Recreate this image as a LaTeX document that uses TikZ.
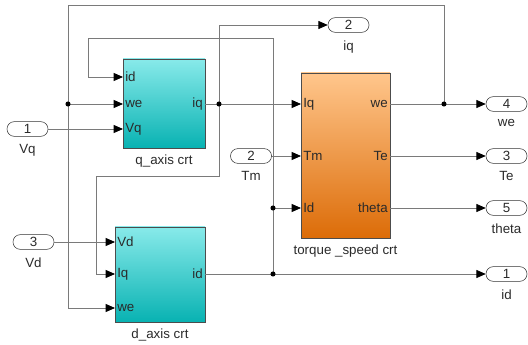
\documentclass[tikz,border=0pt]{standalone}
\usepackage{fontspec}
\setmainfont{Liberation Sans}
\usetikzlibrary{arrows.meta, positioning, shadows}

\definecolor{cyantop}{HTML}{88EAEA}
\definecolor{cyanbot}{HTML}{08B2B2}
\definecolor{orangetop}{HTML}{FFC68C}
\definecolor{orangebot}{HTML}{DC6C08}
\definecolor{wiregray}{HTML}{7A7A7A}
\definecolor{textgray}{HTML}{2A2A2A}

\begin{document}
\begin{tikzpicture}[
    x=0.75pt, y=-0.75pt,
    font=\fontsize{10}{12}\selectfont,
    text=textgray,
    blok/.style={
        rectangle,
        draw=black!70,
        line width=0.6pt,
        inner sep=0pt,
        drop shadow={shadow xshift=0.8pt, shadow yshift=-0.8pt, opacity=0.35}
    },
    qdblok/.style={blok, top color=cyantop, bottom color=cyanbot},
    tsblok/.style={blok, top color=orangetop, bottom color=orangebot},
    port/.style={
        rectangle,
        draw=black!80,
        rounded corners=5.4pt,
        fill=white,
        minimum width=30.75pt,
        minimum height=11pt,
        inner sep=0pt
    },
    pin/.style={inner sep=1.5pt},
    wire/.style={draw=wiregray, line width=0.6pt},
    arrow/.style={wire, -{Triangle[length=7pt, width=6pt, color=black]}},
    dot/.style={circle, fill=black, inner sep=0pt, minimum size=3.8pt}
]
\useasboundingbox (0,0) rectangle (528,345);

% blocks
\node[qdblok, minimum width=61.5pt, minimum height=66.75pt] (qaxis) at (164,103.5) {};
\node[below=1.5pt of qaxis] (qname) {q\_axis crt};
\node[qdblok, minimum width=67.5pt, minimum height=71.25pt] (daxis) at (160,274.5) {};
\node[below=1.5pt of daxis] (dname) {d\_axis crt};
\node[tsblok, minimum width=66.75pt, minimum height=123.75pt] (tsp) at (345.5,155.5) {};
\node[below=1.5pt of tsp] (tname) {torque \_speed crt};

% block ports
\node[pin, anchor=west] (q-id) at (123,77) {id};
\node[pin, anchor=west] (q-we) at (123,104) {we};
\node[pin, anchor=west] (q-vq) at (123,129) {Vq};
\node[pin, anchor=east] (q-iq) at (205,104) {iq};

\node[pin, anchor=west] (d-vd) at (115,242) {Vd};
\node[pin, anchor=west] (d-iq) at (115,274) {Iq};
\node[pin, anchor=west] (d-we) at (115,308) {we};
\node[pin, anchor=east] (d-id) at (205,274) {id};

\node[pin, anchor=west] (t-iq) at (301,104) {Iq};
\node[pin, anchor=west] (t-tm) at (301,156) {Tm};
\node[pin, anchor=west] (t-id) at (301,208) {Id};
\node[pin, anchor=east] (t-we) at (390,104) {we};
\node[pin, anchor=east] (t-te) at (390,156) {Te};
\node[pin, anchor=east] (t-theta) at (390,208) {theta};

% inports
\node[port] (in1) at (27.5,129) {1};
\node[below=2.5pt of in1] (in1name) {Vq};
\node[port] (in2) at (251,156) {2};
\node[below=2.5pt of in2] (in2name) {Tm};
\node[port] (in3) at (33.5,242) {3};
\node[below=2.5pt of in3] (in3name) {Vd};

% outports
\node[port] (out2) at (348.5,25) {2};
\node[below=2.5pt of out2] (out2name) {iq};
\node[port] (out4) at (506.5,104) {4};
\node[below=2.5pt of out4] (out4name) {we};
\node[port] (out3) at (506.5,156) {3};
\node[below=2.5pt of out3] (out3name) {Te};
\node[port] (out5) at (506.5,208) {5};
\node[below=2.5pt of out5] (out5name) {theta};
\node[port] (out1) at (506.5,274) {1};
\node[below=2.5pt of out1] (out1name) {id};

% branch points and bends
\coordinate (jwe) at (444,104);
\coordinate (jweq) at (68,104);
\coordinate (jiq) at (219,104);
\coordinate (jid1) at (273,208);
\coordinate (jid2) at (273,274);
\coordinate (weturn) at (68,5);
\coordinate (iqturn) at (96,176);
\coordinate (idturn) at (88,38);

% wires
\draw[arrow] (in1) -- (q-vq.west);
\draw[arrow] (in3) -- (d-vd.west);
\draw[arrow] (in2) -- (t-tm.west);
\draw[arrow] (q-iq.east) -- (t-iq.west);
\draw[arrow] (t-we.east) -- (out4);
\draw[arrow] (t-te.east) -- (out3);
\draw[arrow] (t-theta.east) -- (out5);
\draw[arrow] (d-id.east) -- (out1);
\draw[wire] (jwe) |- (weturn) -- (jweq);
\draw[arrow] (jweq) -- (q-we.west);
\draw[arrow] (jweq) |- (d-we.west);
\draw[arrow] (jiq) |- (out2);
\draw[arrow] (jiq) |- (iqturn) |- (d-iq.west);
\draw[arrow] (jid2) |- (idturn) |- (q-id.west);
\draw[arrow] (jid1) -- (t-id.west);

\node[dot] (jwe-dot) at (jwe) {};
\node[dot] (jweq-dot) at (jweq) {};
\node[dot] (jiq-dot) at (jiq) {};
\node[dot] (jid1-dot) at (jid1) {};
\node[dot] (jid2-dot) at (jid2) {};

\end{tikzpicture}
\end{document}
